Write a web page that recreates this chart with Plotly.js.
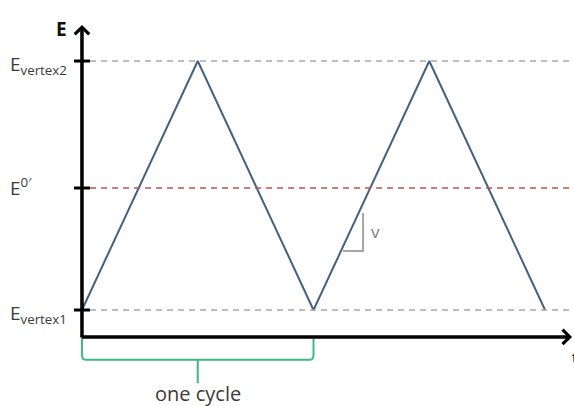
<!DOCTYPE html>
<html>
<head>
<meta charset="utf-8">
<script src="https://cdn.plot.ly/plotly-3.0.1.min.js"></script>
<style>
  html, body { margin: 0; padding: 0; background: #fff; }
  #chart { width: 574px; height: 406px; }
</style>
</head>
<body>
<div id="chart"></div>
<script>
// triangle wave: time in half-cycles, E normalised (vertex1 = 0, vertex2 = 1)
let tPoints = [0, 1, 2, 3, 4]
let ePoints = [0, 1, 0, 1, 0]

// reference potential levels drawn as dashed guides
let levelNames = ['E<sub>vertex1</sub>', 'E<sup>0′</sup>', 'E<sub>vertex2</sub>']
let levelValues = [0, 0.49, 1]
let levelKinds = ['vertex', 'formal', 'vertex']

// one cycle runs from the start to the second vertex1
let cycleStart = 0
let cycleEnd = 2

// scan-rate marker on the rising edge after one cycle
let slopeFrom = [2.255, 0.237]
let slopeTo = [2.428, 0.39]

let xRange = [-0.708, 4.25]
let yRange = [-0.3855, 1.245]
let axisY = -0.108
let axisTop = 1.145
let axisRight = 4.233

let waveColor = '#45617f'
let textColor = '#3a3a3a'
let guideColors = { vertex: '#a8a8a8', formal: '#c0504d' }
let cycleColor = '#3dbb7e'

let drawSweep = function (divName) {
    let shapes = []
    let annotations = []

    levelValues.forEach((val, i) => {
        // dashed guide
        shapes.push({
            type: 'line', xref: 'x', yref: 'y',
            x0: 0.07, x1: xRange[1] - 0.02, y0: val, y1: val,
            line: { color: guideColors[levelKinds[i]], width: 1.5, dash: '6px,5px' }
        })
        // tick on the E axis
        shapes.push({
            type: 'line', xref: 'x', yref: 'y',
            x0: -0.069, x1: 0.069, y0: val, y1: val,
            line: { color: '#000', width: 3 }
        })
        let isSub = levelNames[i].indexOf('<sub>') > -1
        annotations.push({
            xref: 'x', yref: 'y', x: -0.64, y: val,
            text: levelNames[i], showarrow: false,
            xanchor: 'left', yanchor: 'middle',
            yshift: isSub ? -4 : 1,
            font: { family: 'Open Sans, sans-serif', size: 19, color: textColor }
        })
    })

    // slope triangle
    shapes.push({
        type: 'path', xref: 'x', yref: 'y',
        path: `M${slopeFrom[0]},${slopeFrom[1]} L${slopeTo[0]},${slopeFrom[1]} L${slopeTo[0]},${slopeTo[1]}`,
        line: { color: '#8a8a8a', width: 1.5 }
    })
    annotations.push({
        xref: 'x', yref: 'y', x: slopeTo[0] + 0.11, y: (slopeFrom[1] + slopeTo[1]) / 2,
        text: 'v', showarrow: false,
        font: { family: 'Open Sans, sans-serif', size: 17, color: '#808080' }
    })

    // bracket under one cycle
    let bTop = axisY - 0.006
    let bLow = -0.2
    let bTail = -0.293
    let mid = (cycleStart + cycleEnd) / 2
    let r = 0.03
    shapes.push({
        type: 'path', xref: 'x', yref: 'y',
        path: `M${cycleStart},${bTop} L${cycleStart},${bLow + 0.02} Q${cycleStart},${bLow} ${cycleStart + r},${bLow} ` +
              `L${cycleEnd - r},${bLow} Q${cycleEnd},${bLow} ${cycleEnd},${bLow + 0.02} L${cycleEnd},${bTop} ` +
              `M${mid},${bLow} L${mid},${bTail}`,
        line: { color: cycleColor, width: 2 }
    })
    annotations.push({
        xref: 'x', yref: 'y', x: mid, y: -0.335,
        text: 'one cycle', showarrow: false,
        font: { family: 'Open Sans, sans-serif', size: 20, color: textColor }
    })

    // axes with arrow heads
    annotations.push({
        xref: 'x', yref: 'y', axref: 'x', ayref: 'y',
        x: 0, y: axisTop, ax: 0, ay: axisY - 0.008,
        showarrow: true, arrowhead: 4, arrowsize: 0.8, arrowwidth: 3.5,
        arrowcolor: '#000', standoff: 0, startstandoff: 0, text: ''
    })
    annotations.push({
        xref: 'x', yref: 'y', axref: 'x', ayref: 'y',
        x: axisRight, y: axisY, ax: -0.015, ay: axisY,
        showarrow: true, arrowhead: 4, arrowsize: 0.8, arrowwidth: 3.5,
        arrowcolor: '#000', standoff: 0, startstandoff: 0, text: ''
    })
    annotations.push({
        xref: 'x', yref: 'y', x: -0.18, y: 1.13,
        text: '<b>E</b>', showarrow: false,
        font: { family: 'Open Sans, sans-serif', size: 19, color: '#111' }
    })
    annotations.push({
        xref: 'x', yref: 'y', x: 4.215, y: -0.19,
        text: 't', showarrow: false, xanchor: 'left',
        font: { family: 'Open Sans, sans-serif', size: 15, color: '#111' }
    })

    let trace = {
        x: tPoints,
        y: ePoints,
        mode: 'lines',
        type: 'scatter',
        line: { color: waveColor, width: 2 },
        hoverinfo: 'skip'
    }

    let layout = {
        width: 574,
        height: 406,
        margin: { l: 0, r: 0, t: 0, b: 0, pad: 0 },
        paper_bgcolor: '#fff',
        plot_bgcolor: '#fff',
        showlegend: false,
        xaxis: { range: xRange, visible: false, fixedrange: true },
        yaxis: { range: yRange, visible: false, fixedrange: true },
        shapes: shapes,
        annotations: annotations
    }
    Plotly.newPlot(divName, [trace], layout, { displayModeBar: false, staticPlot: true })
}

drawSweep('chart')
</script>
</body>
</html>
